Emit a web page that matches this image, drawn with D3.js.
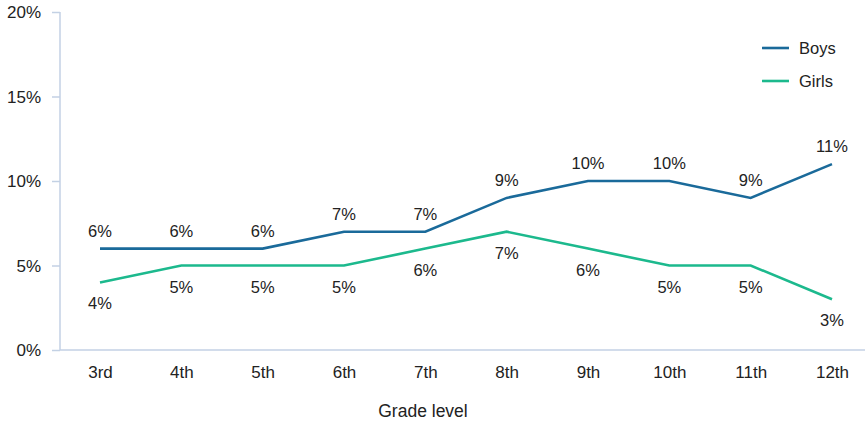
<!DOCTYPE html>
<html><head><meta charset="utf-8">
<script src="https://cdn.jsdelivr.net/npm/d3@7"></script>
<style>body{margin:0;background:#fff}svg{display:block}text{font-family:"Liberation Sans",Arial,sans-serif;fill:#222}</style>
</head><body><svg id="c" width="867" height="421"></svg>
<script>
const grades = ["3rd","4th","5th","6th","7th","8th","9th","10th","11th","12th"];
const boys = [6,6,6,7,7,9,10,10,9,11];
const girls = [4,5,5,5,6,7,6,5,5,3];
const yTicks = [0,5,10,15,20];
const seriesNames = ["Boys","Girls"];
const colors = ["#1a6a9a","#1cb98d"];

const svg = d3.select("#c");
const x = d3.scalePoint().domain(grades).range([100,832]);
const y = d3.scaleLinear().domain([0,20]).range([350,12]);
const axisColor = "#c3d1e4";

// y axis
const ya = svg.append("g").attr("transform","translate(60,0)")
  .call(d3.axisLeft(y).tickValues(yTicks).tickFormat(d=>d+"%").tickSize(8).tickPadding(11));
ya.select(".domain").attr("stroke",axisColor).attr("stroke-width",1.5).attr("d","M0,12V350");
ya.selectAll(".tick line").attr("stroke",axisColor).attr("stroke-width",1.5);
ya.selectAll(".tick text").style("font-size","17px").attr("dy","0.35em");

// x axis
const xa = svg.append("g").attr("transform","translate(0,350)")
  .call(d3.axisBottom(x).tickSize(0).tickPadding(0));
xa.select(".domain").attr("stroke",axisColor).attr("stroke-width",1.5).attr("d","M60,0H865");
xa.selectAll(".tick text").style("font-size","17px").attr("dy",null).attr("y",28);

svg.append("text").attr("x",423).attr("y",417).attr("text-anchor","middle")
  .style("font-size","17.5px").text("Grade level");

const line = d3.line().x((d,i)=>x(grades[i])).y(d=>y(d));
[boys,girls].forEach((s,k)=>{
  svg.append("path").datum(s).attr("d",line).attr("fill","none")
    .attr("stroke",colors[k]).attr("stroke-width",2.6).attr("stroke-linejoin","miter");
  svg.append("g").selectAll("text").data(s).join("text")
    .attr("x",(d,i)=>x(grades[i])).attr("y",d=>y(d)+(k===0?-12:27))
    .attr("text-anchor","middle").style("font-size","16.5px").text(d=>d+"%");
});

// legend
seriesNames.forEach((n,k)=>{
  const ly = 48 + k*33;
  svg.append("line").attr("x1",762).attr("x2",789).attr("y1",ly).attr("y2",ly)
    .attr("stroke",colors[k]).attr("stroke-width",2.6);
  svg.append("text").attr("x",799).attr("y",ly+6).style("font-size","16.5px").text(n);
});
</script></body></html>
